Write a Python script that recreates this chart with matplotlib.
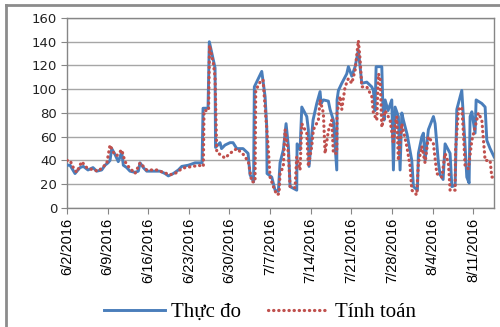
import pandas as pd
import matplotlib
matplotlib.use('Agg')
import matplotlib.pyplot as plt
from matplotlib.ticker import FuncFormatter, MultipleLocator
from matplotlib.lines import Line2D
import matplotlib.dates as mdates

# ngay tinh tu 6/2/2016 (so ngay, co phan le) va luu luong doc tren hinh
start = pd.Timestamp('2016-06-02')

thuc_do_day = [0.0, 0.52, 1.38, 2.24, 2.81, 3.62, 4.48, 5.12, 5.98, 6.55,
               7.07, 7.41, 7.71, 8.28, 8.84, 9.43, 9.71, 10.29, 10.86, 11.72,
               12.29, 12.59, 13.16, 13.74, 14.88, 16.03, 16.90, 17.47, 18.33, 19.19,
               19.78, 20.91, 22.07, 23.28, 23.45, 24.31, 24.53, 25.52, 25.60, 26.38,
               26.64, 27.24, 28.10, 28.62, 29.26, 30.34, 31.21, 31.55, 32.16, 32.29,
               33.57, 34.14, 34.43, 34.48, 35.29, 35.86, 36.43, 36.72, 37.29, 37.76,
               38.16, 38.45, 39.60, 39.66, 40.17, 40.47, 41.33, 41.60, 41.72, 42.41,
               43.05, 43.62, 43.79, 44.19, 45.05, 45.34, 45.91, 46.50, 46.55, 46.78,
               47.36, 48.22, 48.50, 49.09, 49.66, 50.22, 50.81, 51.67, 52.53, 52.81,
               53.10, 53.28, 54.26, 54.43, 54.66, 54.83, 55.34, 55.98, 56.26, 56.55,
               57.12, 57.41, 57.71, 57.98, 58.62, 59.43, 59.71, 60.40, 60.57, 61.16,
               61.43, 61.72, 62.29, 63.16, 63.45, 64.02, 64.31, 64.83, 65.17, 66.03,
               66.33, 66.90, 67.19, 68.05, 68.62, 68.91, 69.31, 69.48, 69.78, 70.34,
               70.52, 71.50, 72.07, 72.36, 72.93, 73.62]
thuc_do_val = [36, 36, 29, 34, 35, 32, 34, 31, 32, 36,
               38, 40, 50, 45, 39, 47, 36, 34, 31, 30,
               31, 38, 34, 31, 31, 31, 29, 27, 29, 32,
               35, 36, 38, 38, 84, 84, 140, 118, 51, 55,
               50, 53, 55, 55, 50, 50, 46, 28, 22, 102,
               115, 94, 68, 29, 26, 15, 14, 38, 49, 71,
               52, 18, 15, 54, 49, 85, 77, 66, 35, 74,
               88, 98, 88, 91, 90, 83, 74, 32, 91, 99,
               105, 113, 119, 111, 119, 133, 105, 106, 102, 99,
               82, 119, 119, 88, 74, 91, 82, 91, 32, 85,
               77, 32, 80, 74, 62, 40, 18, 15, 46, 60,
               63, 40, 66, 77, 71, 38, 28, 24, 54, 46,
               18, 19, 83, 99, 52, 26, 21, 77, 81, 63,
               91, 88, 85, 57, 50, 43]

tinh_toan_day = [0.0, 0.52, 1.09, 1.67, 2.53, 3.40, 4.53, 5.40, 6.26, 6.84,
                 7.41, 7.98, 8.57, 9.43, 10.0, 10.57, 11.72, 12.59, 13.74, 15.47,
                 17.19, 17.76, 18.62, 19.48, 20.34, 21.78, 22.64, 23.50, 23.62, 24.40,
                 24.57, 25.22, 25.52, 25.81, 27.24, 28.10, 29.26, 30.40, 31.26, 31.84,
                 32.41, 32.53, 33.28, 33.79, 34.14, 34.66, 35.0, 35.57, 36.16, 36.55,
                 36.72, 37.29, 37.59, 38.16, 38.45, 39.31, 39.60, 40.17, 40.47, 41.33,
                 41.60, 42.19, 42.47, 43.33, 43.62, 44.19, 44.48, 45.05, 45.64, 45.91,
                 46.50, 46.55, 47.07, 47.36, 47.93, 48.50, 49.09, 49.66, 50.22, 50.52,
                 50.81, 51.67, 52.53, 52.81, 53.40, 53.67, 53.97, 54.26, 54.83, 55.69,
                 56.26, 56.55, 56.84, 57.12, 57.71, 58.57, 59.14, 59.43, 60.29, 60.57,
                 61.16, 61.72, 62.29, 63.16, 63.74, 64.60, 65.17, 65.74, 66.03, 66.90,
                 66.98, 67.47, 68.05, 68.33, 68.62, 69.19, 69.78, 70.34, 70.91, 71.50,
                 72.07, 72.93, 73.22, 73.62]
tinh_toan_val = [40, 40, 34, 30, 39, 34, 32, 31, 35, 37,
                 53, 47, 44, 49, 39, 35, 29, 38, 32, 32,
                 29, 28, 29, 32, 34, 35, 36, 35, 82, 82,
                 137, 122, 110, 47, 42, 46, 50, 45, 39, 22,
                 22, 99, 106, 108, 85, 52, 26, 18, 11, 12,
                 29, 35, 66, 46, 18, 17, 43, 32, 71, 63,
                 35, 52, 66, 74, 91, 80, 46, 65, 74, 46,
                 46, 80, 94, 83, 102, 109, 105, 116, 141, 125,
                 102, 102, 94, 80, 74, 113, 110, 68, 82, 74,
                 54, 70, 77, 40, 71, 52, 35, 15, 11, 38,
                 52, 38, 60, 54, 29, 26, 46, 38, 15, 15,
                 49, 83, 85, 63, 35, 33, 57, 68, 80, 74,
                 40, 40, 26, 26]

n_ticks = 11
x_end_day = 73.6

t_do = start + pd.to_timedelta(thuc_do_day, unit='D')
t_tt = start + pd.to_timedelta(tinh_toan_day, unit='D')

fig = plt.figure(figsize=(5, 3.27), dpi=100)
ax = fig.add_axes([0.134, 0.364, 0.854, 0.581])

ax.plot(t_do, thuc_do_val, color='#4a7ebb', lw=2.1, label='Thực đo', zorder=3)
ax.plot(t_tt, tinh_toan_val, color='#c0504d', lw=2.3,
        linestyle=(0, (0.1, 1.5)), dash_capstyle='round',
        label='Tính toán', zorder=4)

ax.set_ylim(0, 160)
ax.yaxis.set_major_locator(MultipleLocator(20))
ax.set_xlim(start, start + pd.Timedelta(days=x_end_day))
ax.set_xticks(pd.date_range(start, periods=n_ticks, freq='7D'))
ax.xaxis.set_major_formatter(FuncFormatter(
    lambda v, p: '{d.month}/{d.day}/{d.year}'.format(d=mdates.num2date(v))))

ax.grid(axis='y', color='#a6a6a6', lw=1)
ax.set_axisbelow(True)
for s in ax.spines.values():
    s.set_color('#868686')
    s.set_linewidth(1)

ax.tick_params(axis='x', direction='out', length=4, color='#868686',
               labelrotation=90, labelsize=10.5, pad=3)
ax.tick_params(axis='y', direction='out', length=4, color='#868686',
               labelsize=9.5, pad=3)
for lab in ax.get_xticklabels():
    lab.set_fontfamily(['Liberation Sans', 'DejaVu Sans'])
for lab in ax.get_yticklabels():
    lab.set_fontfamily('DejaVu Sans')
    lab.set_color('#222222')

fig.legend(loc='center', bbox_to_anchor=(0.52, 0.045), ncol=2, frameon=False,
           prop={'family': ['Liberation Serif', 'DejaVu Serif'], 'size': 15},
           handlelength=2.9, columnspacing=1.3, handletextpad=0.3)

# khung ngoai cua bieu do
fig.add_artist(Line2D([0.012, 0.012], [0.0, 0.985], transform=fig.transFigure,
                      color='#8c8c8c', lw=2))
fig.add_artist(Line2D([0.012, 1.0], [0.985, 0.985], transform=fig.transFigure,
                      color='#8c8c8c', lw=2))

fig.savefig('out.png', dpi=100)
